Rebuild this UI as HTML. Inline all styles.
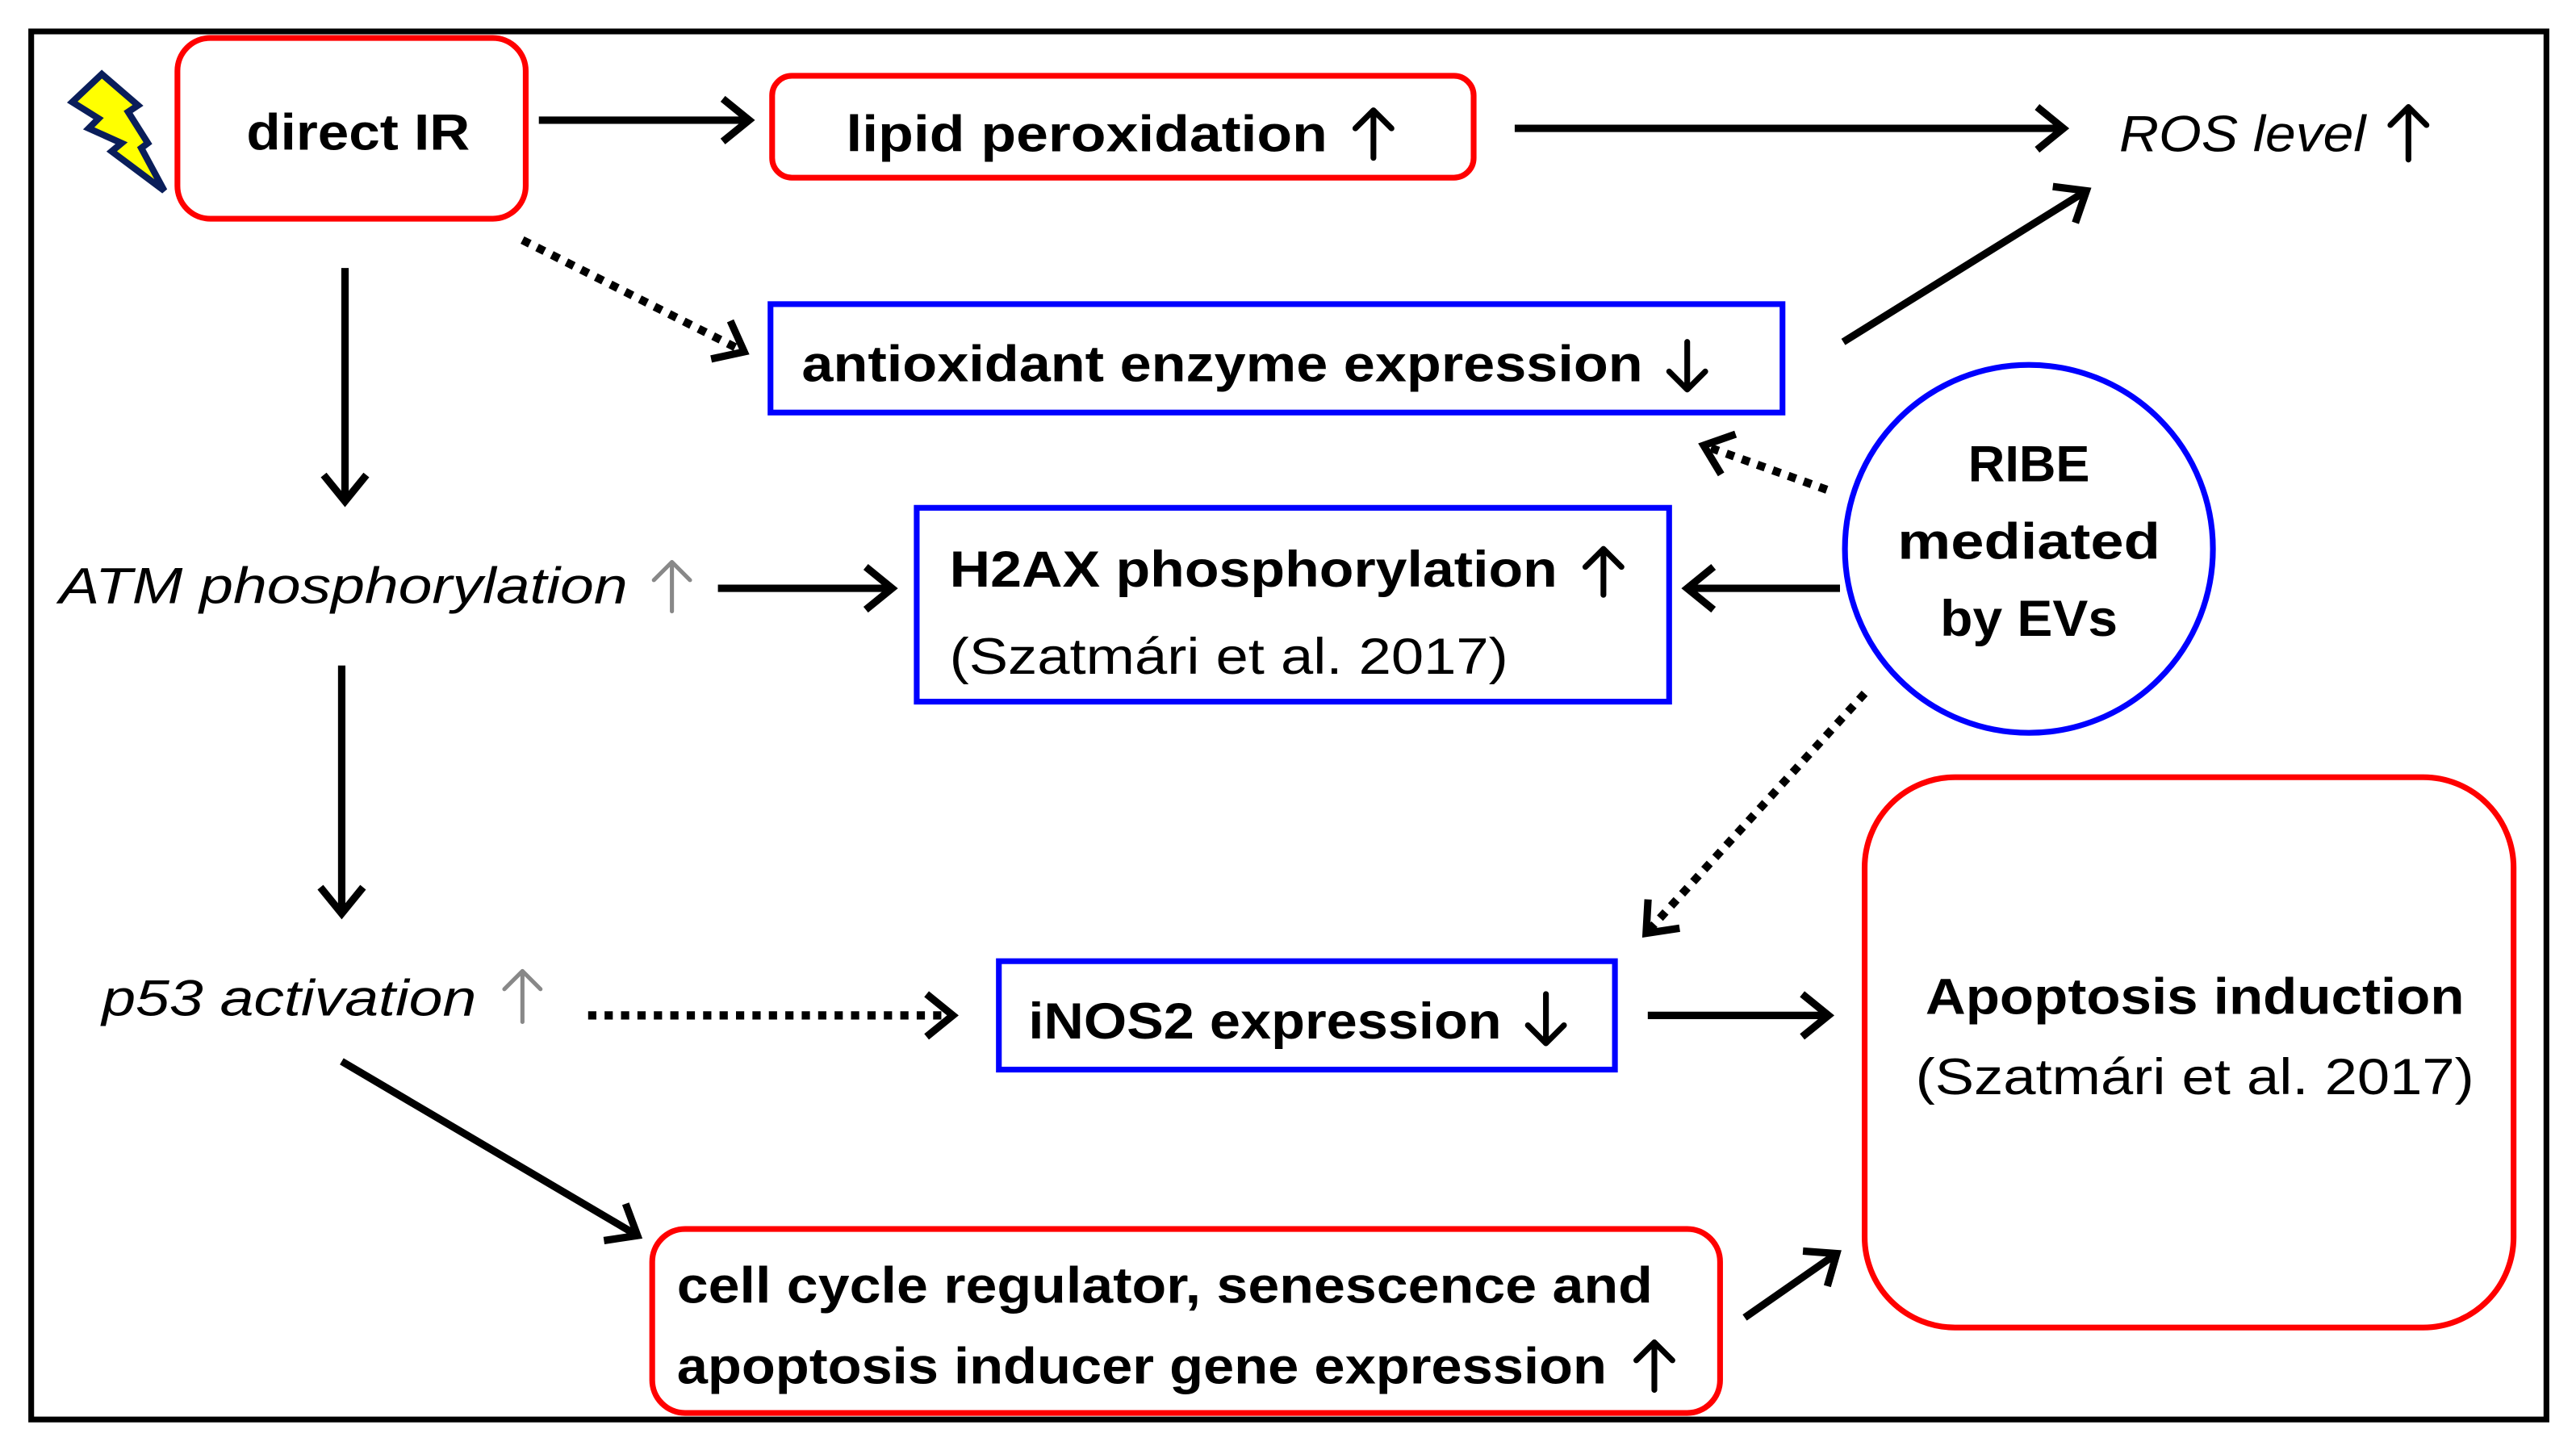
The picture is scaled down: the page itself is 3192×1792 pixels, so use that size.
<!DOCTYPE html>
<html><head><meta charset="utf-8"><style>
html,body{margin:0;padding:0;background:#fff;}
svg{display:block;}
text{font-family:"Liberation Sans",sans-serif;fill:#000;}
.b{font-weight:bold;font-size:31px;}
.i{font-style:italic;font-size:31px;}
.r{font-size:31px;}
</style></head><body>
<svg width="3192" height="1792" viewBox="0 0 1568 880" xmlns="http://www.w3.org/2000/svg">
<defs>
<marker id="a" markerWidth="10" markerHeight="10" refX="8" refY="5" orient="auto" markerUnits="userSpaceOnUse" viewBox="0 0 10 10" style="overflow:visible">
<polyline points="-8,-8 8,5 -8,18" fill="none" stroke="#000" stroke-width="4.5"/>
</marker>
</defs>
<rect x="19" y="19" width="1531" height="845" fill="none" stroke="#000" stroke-width="3.5"/>
<polygon points="62,45 44,62 60,72 54,78 74,87 68,92 100,116 86,90 90,87 78,68 84,64" fill="#ff0" stroke="#0a1e5a" stroke-width="4"/>
<rect x="108" y="23" width="212" height="110" rx="20" fill="none" stroke="#f00" stroke-width="3.5"/>
<text class="b" x="218" y="91" text-anchor="middle" textLength="136" lengthAdjust="spacingAndGlyphs">direct IR</text>
<rect x="470" y="46" width="427" height="62" rx="12" fill="none" stroke="#f00" stroke-width="3.5"/>
<text class="b" x="515" y="92" textLength="293" lengthAdjust="spacingAndGlyphs">lipid peroxidation</text>
<text class="i" x="1290" y="92" textLength="150" lengthAdjust="spacingAndGlyphs">ROS level</text>
<rect x="469" y="185" width="616" height="66" fill="none" stroke="#00f" stroke-width="3.5"/>
<text class="b" x="488" y="232" textLength="512" lengthAdjust="spacingAndGlyphs">antioxidant enzyme expression</text>
<text class="i" x="36" y="367" textLength="346" lengthAdjust="spacingAndGlyphs">ATM phosphorylation</text>
<rect x="558" y="309" width="458" height="118" fill="none" stroke="#00f" stroke-width="3.5"/>
<text class="b" x="578" y="357" textLength="370" lengthAdjust="spacingAndGlyphs">H2AX phosphorylation</text>
<text class="r" x="578" y="410" textLength="340" lengthAdjust="spacingAndGlyphs">(Szatmári et al. 2017)</text>
<circle cx="1235" cy="334" r="112" fill="none" stroke="#00f" stroke-width="3.5"/>
<text class="b" x="1235" y="293" text-anchor="middle" textLength="74" lengthAdjust="spacingAndGlyphs">RIBE</text>
<text class="b" x="1235" y="340" text-anchor="middle" textLength="160" lengthAdjust="spacingAndGlyphs">mediated</text>
<text class="b" x="1235" y="387" text-anchor="middle" textLength="108" lengthAdjust="spacingAndGlyphs">by EVs</text>
<text class="i" x="62" y="618" textLength="228" lengthAdjust="spacingAndGlyphs">p53 activation</text>
<rect x="608" y="585" width="375" height="66" fill="none" stroke="#00f" stroke-width="3.5"/>
<text class="b" x="626" y="632" textLength="288" lengthAdjust="spacingAndGlyphs">iNOS2 expression</text>
<rect x="1135" y="473" width="395" height="335" rx="55" fill="none" stroke="#f00" stroke-width="3.5"/>
<text class="b" x="1336" y="617" text-anchor="middle" textLength="328" lengthAdjust="spacingAndGlyphs">Apoptosis induction</text>
<text class="r" x="1336" y="666" text-anchor="middle" textLength="340" lengthAdjust="spacingAndGlyphs">(Szatmári et al. 2017)</text>
<rect x="397" y="748" width="650" height="112" rx="20" fill="none" stroke="#f00" stroke-width="3.5"/>
<text class="b" x="412" y="793" textLength="594" lengthAdjust="spacingAndGlyphs">cell cycle regulator,  senescence and</text>
<text class="b" x="412" y="842" textLength="566" lengthAdjust="spacingAndGlyphs">apoptosis inducer gene expression</text>
<g fill="none" stroke="#000" stroke-width="3.5" stroke-linecap="round" stroke-linejoin="round">
<path d="M836,96 V67 M825,78 L836,67 L847,78"/>
<path d="M1466,97 V65 M1455,76 L1466,65 L1477,76"/>
<path d="M1027,208 V237 M1016,226 L1027,237 L1038,226"/>
<path d="M976,362 V334 M965,345 L976,334 L987,345"/>
<path d="M941,605 V635 M930,624 L941,635 L952,624"/>
<path d="M1007,846 V817 M996,828 L1007,817 L1018,828"/>
</g>
<g fill="none" stroke="#888" stroke-width="2.5" stroke-linecap="round" stroke-linejoin="round">
<path d="M409,372 V342 M398,353 L409,342 L420,353"/>
<path d="M318,622 V591 M307,602 L318,591 L329,602"/>
</g>
<g stroke="#000" stroke-width="4.5" fill="none" marker-end="url(#a)">
<line x1="328" y1="73" x2="456" y2="73"/>
<line x1="922" y1="78" x2="1256" y2="78"/>
<line x1="1122" y1="208" x2="1270" y2="116"/>
<line x1="210" y1="163" x2="210" y2="305"/>
<line x1="437" y1="358" x2="543" y2="358"/>
<line x1="1120" y1="358" x2="1027" y2="358"/>
<line x1="208" y1="405" x2="208" y2="556"/>
<line x1="1003" y1="618" x2="1113" y2="618"/>
<line x1="208" y1="646" x2="388" y2="752"/>
<line x1="1062" y1="802" x2="1118" y2="763"/>
</g>
<g stroke="#000" stroke-width="5" fill="none" stroke-dasharray="5,5" marker-end="url(#a)">
<line x1="318" y1="146" x2="453" y2="214"/>
<line x1="1112" y1="298" x2="1037" y2="271"/>
<line x1="1135" y1="422" x2="1002" y2="568"/>
<line x1="358" y1="618" x2="580" y2="618"/>
</g>
</svg>
</body></html>
